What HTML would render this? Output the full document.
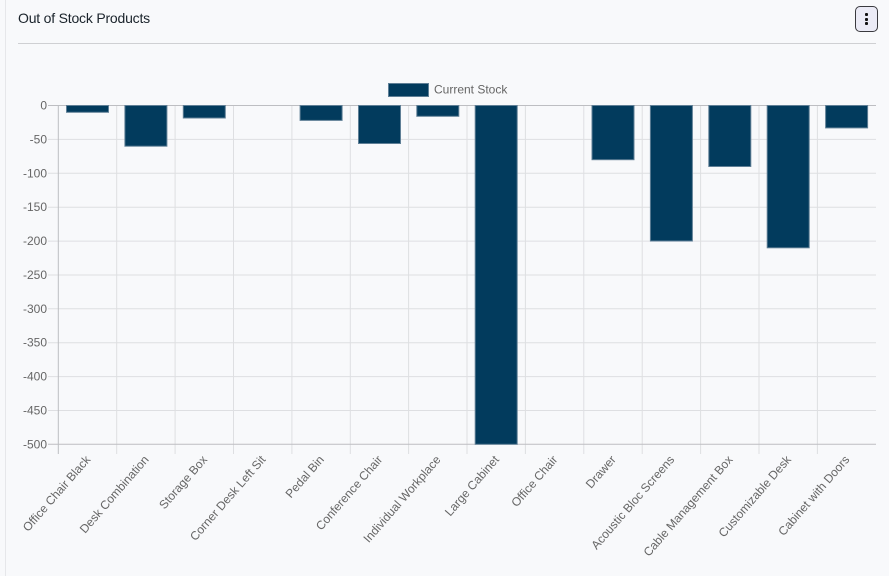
<!DOCTYPE html>
<html><head><meta charset="utf-8"><style>
html,body{margin:0;padding:0;background:#f8f9fb;}
body{width:889px;height:576px;overflow:hidden;position:relative;font-family:"Liberation Sans",sans-serif;}
.lb{position:absolute;left:5px;top:0;width:1px;height:576px;background:#e6e7ea;}
.title{position:absolute;left:18px;top:10px;font-size:14px;color:#1a232b;letter-spacing:-0.2px;}
.hr{position:absolute;left:18px;top:43px;width:858px;height:1px;background:#cfd0d3;}
.btn{position:absolute;left:855px;top:6px;width:21px;height:24px;border:1.5px solid #3a3a3f;border-radius:5px;background:#ebebf6;}
.btn i{position:absolute;left:9px;width:3px;height:3px;background:#111;border-radius:1px;}
svg{position:absolute;left:0;top:0;}
</style></head><body>
<div class="lb"></div>
<div class="title">Out of Stock Products</div>
<div class="hr"></div>
<div class="btn"><i style="top:6px"></i><i style="top:10.5px"></i><i style="top:15px"></i></div>
<svg width="889" height="576" viewBox="0 0 889 576" font-family="Liberation Sans, sans-serif" font-size="12" fill="#666">
<g stroke="#dedfe2" stroke-width="1">
<line x1="48" y1="139.4" x2="876" y2="139.4"/>
<line x1="48" y1="173.3" x2="876" y2="173.3"/>
<line x1="48" y1="207.2" x2="876" y2="207.2"/>
<line x1="48" y1="241.1" x2="876" y2="241.1"/>
<line x1="48" y1="275" x2="876" y2="275"/>
<line x1="48" y1="308.8" x2="876" y2="308.8"/>
<line x1="48" y1="342.7" x2="876" y2="342.7"/>
<line x1="48" y1="376.6" x2="876" y2="376.6"/>
<line x1="48" y1="410.5" x2="876" y2="410.5"/>
<line x1="116.7" y1="105" x2="116.7" y2="454"/>
<line x1="175.1" y1="105" x2="175.1" y2="454"/>
<line x1="233.5" y1="105" x2="233.5" y2="454"/>
<line x1="291.9" y1="105" x2="291.9" y2="454"/>
<line x1="350.3" y1="105" x2="350.3" y2="454"/>
<line x1="408.6" y1="105" x2="408.6" y2="454"/>
<line x1="467" y1="105" x2="467" y2="454"/>
<line x1="525.4" y1="105" x2="525.4" y2="454"/>
<line x1="583.8" y1="105" x2="583.8" y2="454"/>
<line x1="642.2" y1="105" x2="642.2" y2="454"/>
<line x1="700.6" y1="105" x2="700.6" y2="454"/>
<line x1="759" y1="105" x2="759" y2="454"/>
<line x1="817.4" y1="105" x2="817.4" y2="454"/>
</g>
<g stroke="#bdbec2" stroke-width="1">
<line x1="48" y1="105.5" x2="876" y2="105.5"/>
<line x1="48" y1="444.3" x2="876" y2="444.3"/>
<line x1="58.3" y1="105" x2="58.3" y2="454"/>
</g>
<g fill="#023b5d" stroke="#5f7f96" stroke-width="1">
<rect x="66.5" y="105.5" width="42" height="6.8"/>
<rect x="124.9" y="105.5" width="42" height="40.7"/>
<rect x="183.3" y="105.5" width="42" height="12.5"/>
<rect x="300.1" y="105.5" width="42" height="14.9"/>
<rect x="358.5" y="105.5" width="42" height="38"/>
<rect x="416.8" y="105.5" width="42" height="10.8"/>
<rect x="475.2" y="105.5" width="42" height="338.8"/>
<rect x="592" y="105.5" width="42" height="54.2"/>
<rect x="650.4" y="105.5" width="42" height="135.5"/>
<rect x="708.8" y="105.5" width="42" height="61"/>
<rect x="767.2" y="105.5" width="42" height="142.3"/>
<rect x="825.6" y="105.5" width="42" height="22.4"/>
</g>
<rect x="388.5" y="83.5" width="40" height="13" fill="#023b5d" stroke="#5f7f96" stroke-width="1"/>
<text x="434" y="93.5">Current Stock</text>
<g text-anchor="end">
<text x="47" y="109.5">0</text>
<text x="47" y="143.4">-50</text>
<text x="47" y="177.3">-100</text>
<text x="47" y="211.2">-150</text>
<text x="47" y="245.1">-200</text>
<text x="47" y="279">-250</text>
<text x="47" y="312.8">-300</text>
<text x="47" y="346.7">-350</text>
<text x="47" y="380.6">-400</text>
<text x="47" y="414.5">-450</text>
<text x="47" y="448.3">-500</text>
</g>
<g text-anchor="end">
<text transform="translate(91,460) rotate(-49)">Office Chair Black</text>
<text transform="translate(149.4,460) rotate(-49)">Desk Combination</text>
<text transform="translate(207.8,460) rotate(-49)">Storage Box</text>
<text transform="translate(266.2,460) rotate(-49)">Corner Desk Left Sit</text>
<text transform="translate(324.6,460) rotate(-49)">Pedal Bin</text>
<text transform="translate(383,460) rotate(-49)">Conference Chair</text>
<text transform="translate(441.3,460) rotate(-49)">Individual Workplace</text>
<text transform="translate(499.7,460) rotate(-49)">Large Cabinet</text>
<text transform="translate(558.1,460) rotate(-49)">Office Chair</text>
<text transform="translate(616.5,460) rotate(-49)">Drawer</text>
<text transform="translate(674.9,460) rotate(-49)">Acoustic Bloc Screens</text>
<text transform="translate(733.3,460) rotate(-49)">Cable Management Box</text>
<text transform="translate(791.7,460) rotate(-49)">Customizable Desk</text>
<text transform="translate(850.1,460) rotate(-49)">Cabinet with Doors</text>
</g>
</svg>
</body></html>
